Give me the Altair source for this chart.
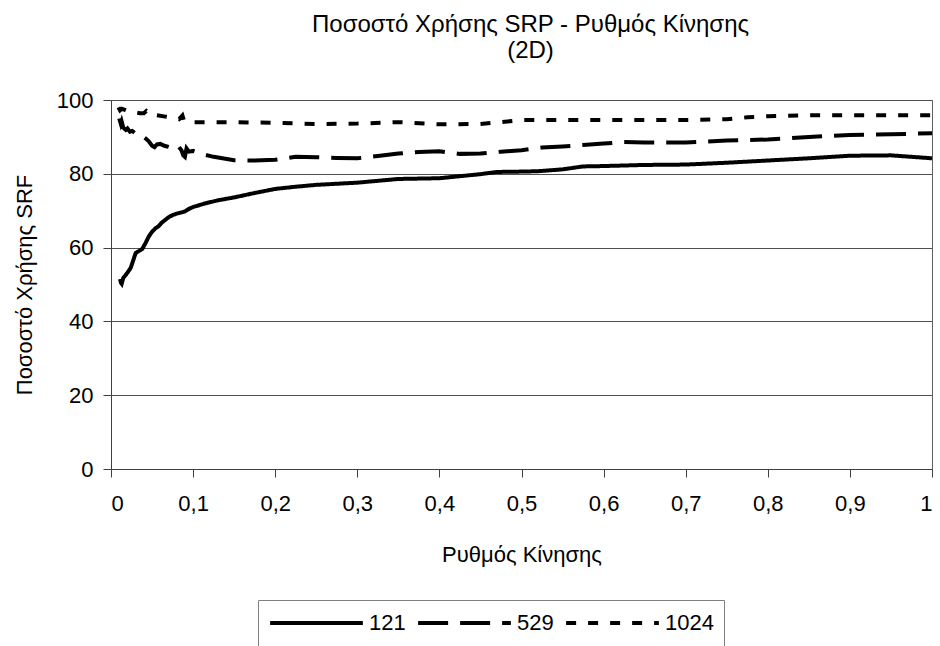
import altair as alt
import pandas as pd

series_names = ["121", "529", "1024"]

x_121 = [0.011, 0.012, 0.013, 0.015, 0.018, 0.020, 0.024, 0.027, 0.030, 0.032, 0.035, 0.038, 0.042, 0.046,
         0.050, 0.054, 0.058, 0.062, 0.066, 0.070, 0.075, 0.080, 0.085, 0.090, 0.095, 0.100, 0.115, 0.130,
         0.150, 0.175, 0.200, 0.225, 0.250, 0.300, 0.350, 0.400, 0.450, 0.470, 0.500, 0.520, 0.550, 0.575,
         0.600, 0.650, 0.700, 0.750, 0.800, 0.850, 0.900, 0.950, 1.000]
y_121 = [51.5, 50.5, 50.2, 51.8, 52.6, 53.2, 54.5, 56.5, 58.5, 58.8, 59.2, 59.6, 61.2, 63.0,
         64.3, 65.2, 65.8, 66.8, 67.5, 68.2, 68.8, 69.2, 69.5, 69.8, 70.5, 71.0, 72.0, 72.8,
         73.6, 74.8, 75.9, 76.5, 77.0, 77.6, 78.6, 78.8, 79.9, 80.5, 80.6, 80.7, 81.2, 82.0,
         82.1, 82.4, 82.5, 83.0, 83.6, 84.2, 84.9, 85.0, 84.2]

x_529 = [0.010, 0.012, 0.013, 0.015, 0.018, 0.020, 0.023, 0.026, 0.030, 0.034, 0.038, 0.042, 0.046, 0.050,
         0.053, 0.056, 0.060, 0.065, 0.070, 0.074, 0.078, 0.082, 0.086, 0.088, 0.090, 0.092, 0.095, 0.100,
         0.110, 0.125, 0.150, 0.175, 0.200, 0.225, 0.250, 0.275, 0.300, 0.325, 0.350, 0.375, 0.400, 0.425,
         0.450, 0.475, 0.500, 0.525, 0.550, 0.575, 0.600, 0.625, 0.650, 0.700, 0.750, 0.800, 0.850, 0.900,
         0.950, 1.000]
y_529 = [95.0, 93.5, 94.2, 92.5, 91.9, 92.3, 91.4, 91.6, 90.9, 91.0, 90.2, 89.6, 88.8, 87.6,
         87.2, 88.0, 88.1, 87.6, 87.3, 87.0, 86.8, 87.5, 86.3, 85.0, 84.6, 86.9, 86.0, 86.2,
         85.4, 84.6, 83.7, 83.6, 83.8, 84.6, 84.5, 84.3, 84.2, 84.8, 85.5, 85.9, 86.1, 85.4,
         85.5, 86.0, 86.4, 87.1, 87.4, 87.8, 88.2, 88.6, 88.5, 88.5, 89.0, 89.3, 90.0, 90.5,
         90.7, 91.0]

x_1024 = [0.009, 0.011, 0.013, 0.017, 0.022, 0.026, 0.030, 0.035, 0.040, 0.043, 0.046, 0.050, 0.058, 0.066,
          0.075, 0.083, 0.087, 0.089, 0.091, 0.095, 0.100, 0.150, 0.200, 0.250, 0.300, 0.350, 0.400, 0.450,
          0.475, 0.500, 0.550, 0.600, 0.650, 0.700, 0.750, 0.775, 0.800, 0.850, 0.900, 0.950, 1.000]
y_1024 = [98.0, 97.2, 97.6, 97.3, 96.8, 96.9, 96.6, 96.4, 96.4, 97.0, 96.2, 96.1, 95.8, 95.5,
          95.2, 94.8, 95.8, 94.3, 94.1, 94.0, 94.0, 94.0, 93.8, 93.5, 93.6, 94.0, 93.4, 93.5,
          94.0, 94.6, 94.6, 94.6, 94.6, 94.6, 94.8, 95.3, 95.6, 95.9, 95.9, 95.9, 95.9]

x_ticks = [0, 0.1, 0.2, 0.3, 0.4, 0.5, 0.6, 0.7, 0.8, 0.9, 1]
y_ticks = [0, 20, 40, 60, 80, 100]

frames = []
for name, xs, ys in [("121", x_121, y_121), ("529", x_529, y_529), ("1024", x_1024, y_1024)]:
    frames.append(pd.DataFrame({"x": xs, "y": ys, "series": name}))
df = pd.concat(frames, ignore_index=True)

FONT = "Liberation Sans"

chart = alt.Chart(df).mark_line(color="black", strokeWidth=4, clip=True).encode(
    x=alt.X("x:Q", scale=alt.Scale(domain=[0, 1], nice=False),
            axis=alt.Axis(values=x_ticks, grid=False, title="Ρυθμός Κίνησης",
                          labelExpr="replace(format(datum.value, '~g'), '.', ',')",
                          tickSize=8, labelPadding=16, titlePadding=30)),
    y=alt.Y("y:Q", scale=alt.Scale(domain=[0, 100], nice=False),
            axis=alt.Axis(values=y_ticks, grid=True, title="Ποσοστό Χρήσης SRF",
                          tickSize=8, labelPadding=10, titlePadding=20)),
    strokeDash=alt.StrokeDash(
        "series:N",
        scale=alt.Scale(domain=series_names, range=[[1, 0], [30, 12], [10, 12]]),
        legend=alt.Legend(title=None, orient="none", legendX=147, legendY=500,
                          direction="horizontal", symbolType="stroke", symbolSize=8600,
                          symbolStrokeWidth=4, symbolStrokeColor="black",
                          labelFontSize=22, labelFont=FONT, labelOffset=4,
                          clipHeight=26,
                          columnPadding=10, padding=10, strokeColor="#808080",
                          fillColor="white"),
    ),
).properties(
    width=821, height=369,
    autosize="none",
    padding={"left": 111, "top": 100, "right": 8, "bottom": 177},
    title=alt.TitleParams(text=["Ποσοστό Χρήσης SRP - Ρυθμός Κίνησης", "(2D)"],
                          font=FONT, fontSize=24, fontWeight="normal", anchor="middle",
                          dx=9, offset=26, lineHeight=26, color="black"),
).configure_view(
    stroke="#606060", strokeWidth=1
).configure_axis(
    labelFont=FONT, titleFont=FONT, labelFontSize=22, titleFontSize=22,
    titleFontWeight="normal", labelColor="black", titleColor="black",
    domainColor="#404040", tickColor="#404040", gridColor="#505050", gridWidth=1,
)

chart.save("out.html", embed_options={"renderer": "svg", "actions": False})
